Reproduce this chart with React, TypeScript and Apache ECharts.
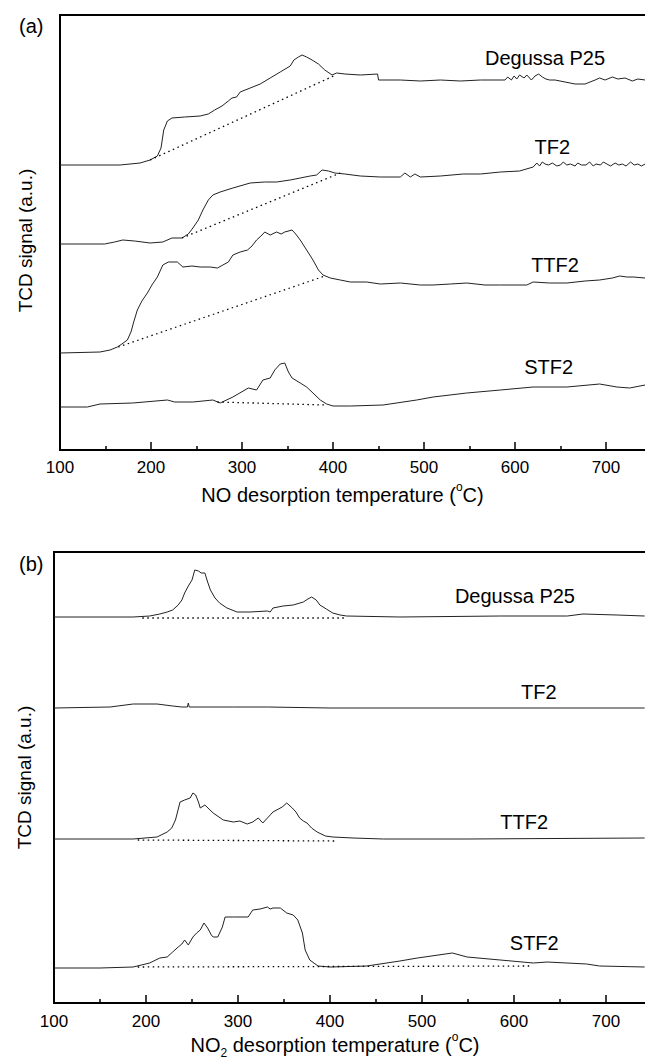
import React, { useEffect, useRef } from "react";
import * as echarts from "echarts";

const FONT = '"Liberation Sans", Arial, Helvetica, sans-serif';

// x-axis (temperature, °C) shared by both panels
const X_MIN = 100;
const X_MAX = 800;
const X_INTERVAL = 100;

// ---------- Panel (a): NO desorption, TCD signal (a.u.) ----------
const A_Y_MAX = 435;

const A_DEGUSSA: [number, number][] = [
  [100, 285], [166, 285], [188, 287], [199, 290], [207, 294], [211, 302], [214, 320], [218, 329],
  [223, 332], [237, 333], [254, 334], [263, 336], [270, 340], [278, 344], [285, 349], [289, 352],
  [294, 353], [298, 358], [309, 362], [320, 366], [331, 372], [342, 378], [353, 384], [357, 390],
  [362, 393], [366, 395], [371, 393], [377, 390], [384, 386], [391, 380], [399, 375], [404, 377],
  [413, 376], [430, 375], [449, 376], [450, 370], [474, 370], [496, 369], [518, 370], [540, 369],
  [562, 370], [589, 370], [592, 373], [596, 370], [599, 374], [602, 371], [605, 375], [610, 372],
  [613, 375], [618, 370], [622, 374], [626, 376], [630, 373], [634, 371], [638, 370], [644, 370],
  [655, 368], [666, 366], [677, 366], [688, 370], [693, 372], [699, 370], [707, 373], [713, 371],
  [721, 372], [729, 369], [735, 371], [743, 370],
];
const A_DEGUSSA_BASE: [number, number][] = [[199, 290], [403, 375]];

const A_TF2: [number, number][] = [
  [100, 206], [149, 206], [160, 208], [169, 210], [182, 209], [199, 207], [213, 208], [223, 212],
  [234, 212], [241, 216], [246, 222], [252, 230], [257, 240], [263, 250], [268, 255], [276, 258],
  [290, 262], [309, 267], [325, 268], [338, 268], [353, 270], [364, 272], [375, 274], [382, 275],
  [388, 280], [395, 279], [402, 277], [413, 276], [430, 274], [452, 273], [474, 273], [479, 277],
  [485, 273], [490, 276], [496, 273], [518, 274], [543, 276], [562, 276], [584, 278], [605, 279],
  [620, 283], [624, 287], [627, 284], [630, 288], [633, 286], [637, 285], [641, 287], [646, 284],
  [650, 285], [653, 288], [657, 285], [661, 286], [666, 284], [669, 287], [673, 285], [678, 285],
  [682, 288], [686, 284], [689, 286], [694, 285], [697, 288], [701, 286], [705, 284], [710, 287],
  [714, 285], [718, 286], [722, 284], [727, 288], [731, 285], [735, 286], [739, 284], [743, 286],
];
const A_TF2_BASE: [number, number][] = [[234, 212], [408, 277]];

const A_TTF2: [number, number][] = [
  [100, 97], [144, 98], [155, 100], [163, 103], [168, 106], [174, 110], [178, 118], [181, 128],
  [185, 140], [190, 149], [196, 157], [201, 165], [207, 173], [213, 185], [219, 188], [229, 188],
  [235, 183], [245, 184], [254, 183], [265, 183], [273, 182], [279, 185], [285, 188], [290, 195],
  [298, 198], [306, 200], [311, 204], [316, 210], [322, 215], [325, 218], [331, 215], [338, 218],
  [343, 216], [347, 218], [355, 220], [359, 216], [364, 210], [371, 200], [378, 190], [384, 180],
  [389, 175], [397, 172], [408, 170], [419, 168], [437, 168], [452, 166], [474, 167], [496, 165],
  [510, 165], [529, 166], [547, 167], [567, 165], [584, 165], [600, 165], [613, 165], [620, 168],
  [638, 167], [657, 167], [677, 169], [693, 170], [707, 172], [715, 174], [723, 173], [730, 173],
  [743, 172],
];
const A_TTF2_BASE: [number, number][] = [[164, 103], [391, 174]];

const A_STF2: [number, number][] = [
  [100, 43], [130, 43], [144, 46], [180, 47], [218, 50], [226, 48], [246, 48], [268, 50],
  [276, 47], [290, 53], [307, 62], [316, 60], [323, 70], [331, 72], [336, 80], [342, 86],
  [347, 87], [351, 78], [355, 72], [364, 67], [371, 63], [378, 57], [386, 50], [393, 46],
  [400, 44], [419, 44], [455, 45], [492, 50], [510, 53], [547, 57], [584, 60], [620, 63],
  [657, 63], [693, 66], [712, 63], [726, 62], [743, 65],
];
const A_STF2_BASE: [number, number][] = [[273, 48], [391, 45]];

// ---------- Panel (b): NO2 desorption, TCD signal (a.u.) ----------
const B_Y_MAX = 451;

const B_DEGUSSA: [number, number][] = [
  [100, 386], [186, 386], [204, 387], [215, 389], [223, 391], [229, 393], [235, 398], [239, 403],
  [242, 410], [246, 417], [250, 423], [253, 433], [257, 432], [260, 430], [264, 430], [267, 421],
  [270, 413], [275, 405], [280, 400], [288, 395], [299, 391], [313, 391], [332, 392], [335, 391],
  [338, 395], [349, 397], [360, 398], [371, 401], [376, 404], [380, 406], [385, 403], [389, 398],
  [396, 394], [403, 390], [411, 388], [418, 387], [476, 386], [585, 387], [658, 387], [675, 389],
  [712, 388], [742, 387],
];
const B_DEGUSSA_BASE: [number, number][] = [[196, 385], [416, 385]];

const B_TF2: [number, number][] = [
  [100, 295], [161, 296], [186, 299], [212, 299], [229, 297], [239, 296], [245, 296], [246, 300],
  [247, 296], [295, 296], [332, 296], [400, 295], [742, 295],
];

const B_TTF2: [number, number][] = [
  [100, 164], [186, 164], [212, 166], [223, 171], [228, 175], [232, 183], [234, 190], [237, 201],
  [242, 203], [248, 205], [251, 210], [254, 208], [257, 201], [259, 195], [264, 198], [273, 190],
  [284, 183], [295, 181], [302, 182], [310, 179], [316, 181], [322, 185], [327, 180], [333, 186],
  [338, 191], [348, 196], [353, 200], [359, 195], [363, 191], [367, 185], [371, 182], [375, 180],
  [380, 175], [386, 171], [395, 167], [403, 166], [425, 165], [458, 164], [549, 164], [742, 165],
];
const B_TTF2_BASE: [number, number][] = [[191, 163], [405, 162]];

const B_STF2: [number, number][] = [
  [100, 35], [150, 35], [186, 36], [204, 40], [215, 45], [223, 46], [229, 51], [235, 56],
  [239, 59], [242, 63], [246, 58], [251, 66], [255, 70], [259, 73], [263, 80], [267, 75],
  [271, 68], [273, 66], [278, 66], [283, 76], [286, 86], [295, 86], [311, 86], [316, 93],
  [324, 94], [332, 96], [335, 94], [338, 95], [346, 95], [353, 90], [360, 88], [365, 83],
  [370, 70], [373, 53], [378, 43], [387, 37], [400, 36], [440, 37], [476, 42], [495, 45],
  [533, 50], [549, 46], [585, 43], [621, 40], [636, 41], [679, 39], [693, 37], [742, 36],
];
const B_STF2_BASE: [number, number][] = [[191, 36], [617, 37]];

// curve names and where their labels sit (data coordinates)
const A_LABELS: [string, number, number][] = [
  ["Degussa P25", 633, 392], ["TF2", 641, 303], ["TTF2", 644, 185], ["STF2", 637, 83],
];
const B_LABELS: [string, number, number][] = [
  ["Degussa P25", 601, 407], ["TF2", 627, 311], ["TTF2", 611, 181], ["STF2", 622, 60],
];

function buildOption() {
  const nameRich = {
    sup: { fontSize: 12, lineHeight: 12, verticalAlign: "top", fontFamily: FONT, color: "#000" },
    sub: { fontSize: 12, lineHeight: 12, verticalAlign: "bottom", padding: [16, 0, 0, 0], fontFamily: FONT, color: "#000" },
  };
  const xAxis = (gridIndex: number, name: string, nameGap: number, margin: number, shift: number) => ({
    type: "value",
    gridIndex,
    min: X_MIN,
    max: X_MAX,
    interval: X_INTERVAL,
    axisLine: { show: true, onZero: false, lineStyle: { color: "#000", width: 2 } },
    axisTick: { show: true, inside: true, length: 8, lineStyle: { color: "#000", width: 1.5 } },
    minorTick: { show: true, splitNumber: 2, length: 4, lineStyle: { color: "#000", width: 1.5 } },
    axisLabel: { show: true, margin, fontSize: 17, color: "#000", fontFamily: FONT, showMaxLabel: false },
    splitLine: { show: false },
    minorSplitLine: { show: false },
    name,
    nameLocation: "middle",
    nameGap,
    nameTextStyle: {
      fontSize: 20,
      lineHeight: 28,
      color: "#000",
      fontFamily: FONT,
      padding: [0, shift, 0, 0],
      rich: nameRich,
    },
  });
  const yAxis = (gridIndex: number, max: number, nameGap: number, shift: number) => ({
    type: "value",
    gridIndex,
    min: 0,
    max,
    axisLine: { show: true, lineStyle: { color: "#000", width: 2 } },
    axisTick: { show: false },
    axisLabel: { show: false },
    splitLine: { show: false },
    name: "TCD signal (a.u.)",
    nameLocation: "middle",
    nameGap,
    nameTextStyle: { fontSize: 19, color: "#000", fontFamily: FONT, padding: [0, shift, 0, 0] },
  });

  const curve = (idx: number, data: [number, number][], label?: [string, number, number]) => ({
    type: "line",
    xAxisIndex: idx,
    yAxisIndex: idx,
    data,
    showSymbol: false,
    symbol: "none",
    lineStyle: { color: "#222", width: 1 },
    silent: true,
    markPoint: label
      ? {
          silent: true,
          symbol: "circle",
          symbolSize: 0,
          label: {
            show: true,
            position: "inside",
            formatter: label[0],
            fontSize: 20,
            color: "#000",
            fontFamily: FONT,
          },
          data: [{ coord: [label[1], label[2]] }],
        }
      : undefined,
  });
  const base = (idx: number, data: [number, number][]) => ({
    type: "line",
    xAxisIndex: idx,
    yAxisIndex: idx,
    data,
    showSymbol: false,
    symbol: "none",
    lineStyle: { color: "#000", width: 1.3, type: [1.5, 3.5] },
    silent: true,
  });

  const gridBase = {
    show: true,
    borderColor: "#000",
    borderWidth: 2,
    backgroundColor: "transparent",
    containLabel: false,
    outerBoundsMode: "none",
  };

  return {
    animation: false,
    backgroundColor: "#fff",
    title: [
      { text: "(a)", left: 14, top: 11, textStyle: { fontSize: 20, fontWeight: "normal", color: "#000", fontFamily: FONT } },
      { text: "(b)", left: 14, top: 549, textStyle: { fontSize: 20, fontWeight: "normal", color: "#000", fontFamily: FONT } },
    ],
    grid: [
      { ...gridBase, left: 60, top: 15, width: 637, height: 435 },
      { ...gridBase, left: 54, top: 552, width: 644, height: 451 },
    ],
    xAxis: [
      xAxis(0, "NO desorption temperature ({sup|o}C)", 31, 9, 72),
      xAxis(1, "NO{sub|2} desorption temperature ({sup|o}C)", 28, 10, 82),
    ],
    yAxis: [yAxis(0, A_Y_MAX, 25, 16), yAxis(1, B_Y_MAX, 20, 0)],
    series: [
      curve(0, A_DEGUSSA, A_LABELS[0]),
      base(0, A_DEGUSSA_BASE),
      curve(0, A_TF2, A_LABELS[1]),
      base(0, A_TF2_BASE),
      curve(0, A_TTF2, A_LABELS[2]),
      base(0, A_TTF2_BASE),
      curve(0, A_STF2, A_LABELS[3]),
      base(0, A_STF2_BASE),
      curve(1, B_DEGUSSA, B_LABELS[0]),
      base(1, B_DEGUSSA_BASE),
      curve(1, B_TF2, B_LABELS[1]),
      curve(1, B_TTF2, B_LABELS[2]),
      base(1, B_TTF2_BASE),
      curve(1, B_STF2, B_LABELS[3]),
      base(1, B_STF2_BASE),
    ],
  };
}

export default function App() {
  const ref = useRef<HTMLDivElement>(null);
  useEffect(() => {
    document.body.style.margin = "0";
    if (!ref.current) return;
    const chart = echarts.init(ref.current, undefined, { renderer: "svg" });
    chart.setOption(buildOption() as any);
    return () => chart.dispose();
  }, []);
  return <div ref={ref} style={{ width: 645, height: 1062, overflow: "hidden", background: "#fff" }} />;
}
